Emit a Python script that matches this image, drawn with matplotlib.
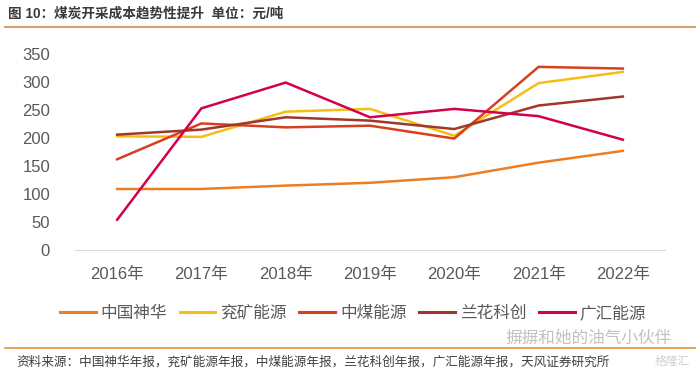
import matplotlib.pyplot as plt
from matplotlib.lines import Line2D

plt.rcParams['font.family'] = ['Liberation Sans', 'Noto Sans CJK SC', 'DejaVu Sans']

years = ["2016年", "2017年", "2018年", "2019年", "2020年", "2021年", "2022年"]
shenhua = [109, 109, 115, 120, 130, 156, 177]
yankuang = [203, 202, 247, 252, 204, 298, 318]
zhongmei = [162, 226, 219, 222, 199, 327, 324]
lanhua = [206, 215, 237, 231, 216, 258, 274]
guanghui = [54, 253, 299, 237, 252, 239, 197]

names = ["中国神华", "兖矿能源", "中煤能源", "兰花科创", "广汇能源"]
series = [shenhua, yankuang, zhongmei, lanhua, guanghui]
colors = ["#EE7D22", "#F5BE14", "#D7401E", "#A0372A", "#D2004E"]

fig = plt.figure(figsize=(7, 3.77), dpi=100)
ax = fig.add_axes([75 / 700, 1 - 250 / 377, 590 / 700, 196 / 377])

x = range(len(years))
for vals, c, n in zip(series, colors, names):
    ax.plot(x, vals, color=c, lw=1.8, label=n, solid_joinstyle="miter")

ax.set_xlim(-0.5, 6.5)
ax.set_ylim(0, 350)
ax.set_yticks(range(0, 351, 50))
ax.set_xticks(list(x))
ax.set_xticklabels(years)
ax.tick_params(length=0, labelsize=12, colors="#595959", pad=12)
ax.tick_params(axis="y", pad=18)
for s in ["top", "right", "left"]:
    ax.spines[s].set_visible(False)
ax.spines["bottom"].set_color("#D9D9D9")

handles = [Line2D([], [], color=c, lw=2.2) for c in colors]
fig.legend(handles, names, loc="center", bbox_to_anchor=(353 / 700, 1 - 313 / 377), ncol=5,
           frameon=False, fontsize=12, handlelength=2.15, handletextpad=0.3,
           columnspacing=0.75, labelcolor="#595959")

fig.text(8 / 700, 1 - 14 / 377, "图 10：煤炭开采成本趋势性提升  单位：元/吨", fontsize=9.8,
         fontweight="bold", color="#3A3A3A", va="center", ha="left")
fig.add_artist(Line2D([5 / 700, 695 / 700], [1 - 27 / 377] * 2, color="#D4A06A", lw=1.5))
fig.add_artist(Line2D([5 / 700, 695 / 700], [1 - 348 / 377] * 2, color="#E8913A", lw=1.2))
fig.text(16 / 700, 1 - 362 / 377, "资料来源：中国神华年报，兖矿能源年报，中煤能源年报，兰花科创年报，广汇能源年报，天风证券研究所",
         fontsize=9.1, color="#404040", va="center", ha="left")
fig.text(505 / 700, 1 - 338 / 377, "摒摒和她的油气小伙伴", fontsize=12, color="#999999",
         alpha=0.6, va="center", ha="left")
fig.text(690 / 700, 1 - 362 / 377, "格隆汇", fontsize=8.5, color="#BBBBBB", alpha=0.7,
         va="center", ha="right")

fig.savefig("out.png", dpi=100)
